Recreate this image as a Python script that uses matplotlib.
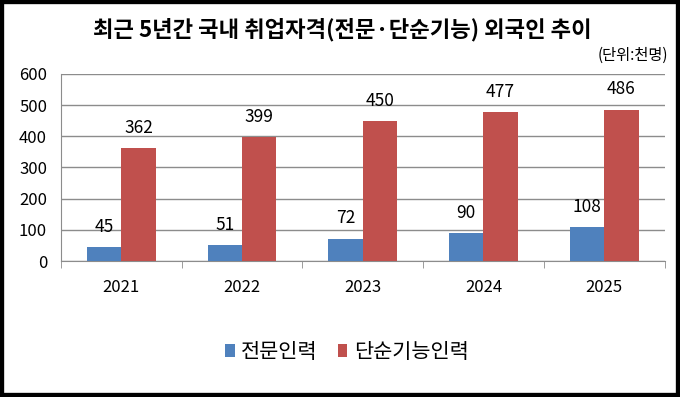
import matplotlib
matplotlib.use("Agg")
import matplotlib.pyplot as plt
import numpy as np
from matplotlib.patches import Rectangle

plt.rcParams['font.family'] = ['Noto Sans CJK KR', 'DejaVu Sans']

years = ['2021', '2022', '2023', '2024', '2025']
professional = [45, 51, 72, 90, 108]
unskilled = [362, 399, 450, 477, 486]
series_names = ['전문인력', '단순기능인력']
title = '최근 5년간 국내 취업자격(전문·단순기능) 외국인 추이'
unit = '(단위:천명)'

blue = '#4F81BD'
red = '#C0504D'

fig = plt.figure(figsize=(6.8, 3.97), dpi=100)
ax = fig.add_axes([61 / 680, 1 - 261 / 397, (664.5 - 61) / 680, (261 - 74) / 397])

x = np.arange(len(years))
w = 0.285
b1 = ax.bar(x - w / 2, professional, w, color=blue, zorder=3)
b2 = ax.bar(x + w / 2, unskilled, w, color=red, zorder=3)

for bars, vals in ((b1, professional), (b2, unskilled)):
    for rect, v in zip(bars, vals):
        ax.annotate(str(v), (rect.get_x() + rect.get_width() / 2, v),
                    xytext=(0, 8), textcoords='offset points',
                    ha='center', va='bottom', fontsize=12.5)

ax.set_xlim(-0.5, len(years) - 0.5)
ax.set_ylim(0, 600)
ax.set_yticks(range(0, 601, 100))
ax.grid(axis='y', color='#8c8c8c', lw=1, zorder=0)
ax.set_axisbelow(True)

ax.set_xticks(x)
ax.set_xticklabels(years, fontsize=12)
ax.tick_params(axis='x', length=0, pad=13)
ax.set_xticks(np.arange(-0.5, len(years)), minor=True)
ax.tick_params(axis='x', which='minor', length=5, color='#8c8c8c')
ax.tick_params(axis='y', length=0, labelsize=12, pad=10)

for s in ('top', 'right'):
    ax.spines[s].set_visible(False)
for s in ('left', 'bottom'):
    ax.spines[s].set_color('#8c8c8c')

fig.legend([b1, b2], series_names, loc='center', bbox_to_anchor=(0.51, 1 - 352 / 397),
           ncol=2, frameon=False, fontsize=15, handlelength=0.45, handleheight=0.6,
           handletextpad=0.3, columnspacing=1.0)

fig.text(0.503, 1 - 30 / 397, title, ha='center', va='center', fontsize=16, fontweight='bold')
fig.text(668 / 680, 1 - 55 / 397, unit, ha='right', va='center', fontsize=11)

fig.patches.append(Rectangle((0, 0), 1, 1, transform=fig.transFigure, fill=False,
                             edgecolor='black', lw=6))

fig.savefig('out.png', dpi=100)
